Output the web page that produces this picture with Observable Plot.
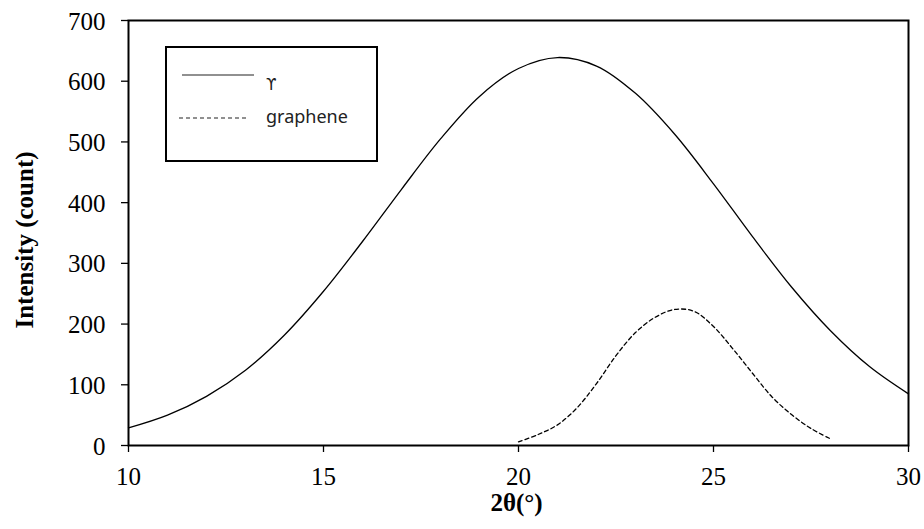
<!DOCTYPE html>
<html>
<head>
<meta charset="utf-8">
<script src="https://cdn.jsdelivr.net/npm/d3@7"></script>
<script src="https://cdn.jsdelivr.net/npm/@observablehq/plot@0.6"></script>
<style>
  body { margin: 0; background: white; }
  #wrap { position: relative; width: 924px; height: 529px; }
  #legend {
    position: absolute; left: 165px; top: 46px; width: 213px; height: 116px;
    box-sizing: border-box; border: 2px solid black; background: white;
    font-family: "Noto Sans", sans-serif;
  }
  #legend svg { position: absolute; left: 0; top: 0; }
</style>
</head>
<body>
<div id="wrap"></div>
<script>
// Tick labels
const xTicks = [10, 15, 20, 25, 30];
const yTicks = [0, 100, 200, 300, 400, 500, 600, 700];

// Series "ϒ" (solid)
const gammaX = [10, 11, 12, 13, 14, 15, 16, 17, 18, 19, 20, 21, 22, 23, 24, 25, 26, 27, 28, 29, 30];
const gammaY = [29, 50, 81, 124, 182, 254, 336, 422, 505, 575, 621, 639, 625, 580, 513, 431, 344, 261, 189, 130, 85];

// Series "graphene" (dashed)
const grapheneX = [20, 20.5, 21, 21.5, 22, 22.5, 23, 23.5, 24, 24.5, 25, 25.5, 26, 26.5, 27, 27.5, 28];
const grapheneY = [6, 18, 34, 62, 102, 148, 186, 211, 224, 221, 196, 159, 119, 80, 51, 28, 11];

// Labels
const seriesNames = ["ϒ", "graphene"];
const xTitle = "2θ(°)";
const yTitle = "Intensity (count)";

const gamma = gammaX.map((x, i) => ({x, y: gammaY[i]}));
const graphene = grapheneX.map((x, i) => ({x, y: grapheneY[i]}));

const chart = Plot.plot({
  width: 924,
  height: 529,
  marginLeft: 128,
  marginRight: 16,
  marginTop: 20,
  marginBottom: 84,
  x: {domain: [10, 30], axis: null},
  y: {domain: [0, 700], axis: null},
  style: {fontFamily: "'Liberation Serif', 'Times New Roman', serif", fontSize: "25px", color: "black", background: "white"},
  marks: [
    Plot.line(gamma, {x: "x", y: "y", curve: "catmull-rom", stroke: "black", strokeWidth: 1.3}),
    Plot.line(graphene, {x: "x", y: "y", curve: "catmull-rom", stroke: "black", strokeWidth: 1.3, strokeDasharray: "4,3"}),
    Plot.frame({stroke: "black", strokeWidth: 2}),
    // tick marks only
    Plot.axisX({ticks: xTicks, tickSize: 7, label: null, tickFormat: () => "", strokeWidth: 1.3}),
    Plot.axisY({ticks: yTicks, tickSize: 7, label: null, tickFormat: () => "", strokeWidth: 1.3}),
    // tick labels
    Plot.text(xTicks, {x: d => d, frameAnchor: "bottom", textAnchor: "middle", lineAnchor: "middle", dy: 31, fontSize: 25, text: d => String(d)}),
    Plot.text(yTicks, {y: d => d, frameAnchor: "left", textAnchor: "end", lineAnchor: "middle", dx: -23, dy: 1, fontSize: 25, text: d => String(d)}),
    // titles
    Plot.text([yTitle], {frameAnchor: "left", textAnchor: "middle", lineAnchor: "middle", rotate: -90, dx: -104, dy: 7, fontWeight: "bold", fontSize: 25}),
    Plot.text([xTitle], {frameAnchor: "bottom", textAnchor: "middle", lineAnchor: "middle", dy: 57, dx: -2, fontWeight: "bold", fontSize: 25})
  ]
});

const wrap = document.getElementById("wrap");
wrap.appendChild(chart);

// Legend box
const legend = document.createElement("div");
legend.id = "legend";
legend.innerHTML = `
<svg width="209" height="112" xmlns="http://www.w3.org/2000/svg">
  <line x1="15" x2="87" y1="27" y2="27" stroke="#222" stroke-width="1.2"/>
  <text x="99" y="42" font-size="15" font-family="'DejaVu Sans', sans-serif" fill="#222">${seriesNames[0]}</text>
  <line x1="12" x2="82" y1="70" y2="70" stroke="#222" stroke-width="1.2" stroke-dasharray="4,3"/>
  <text x="99" y="75" font-size="18" font-family="'Noto Sans', sans-serif" fill="#222">${seriesNames[1]}</text>
</svg>`;
wrap.appendChild(legend);
</script>
</body>
</html>
